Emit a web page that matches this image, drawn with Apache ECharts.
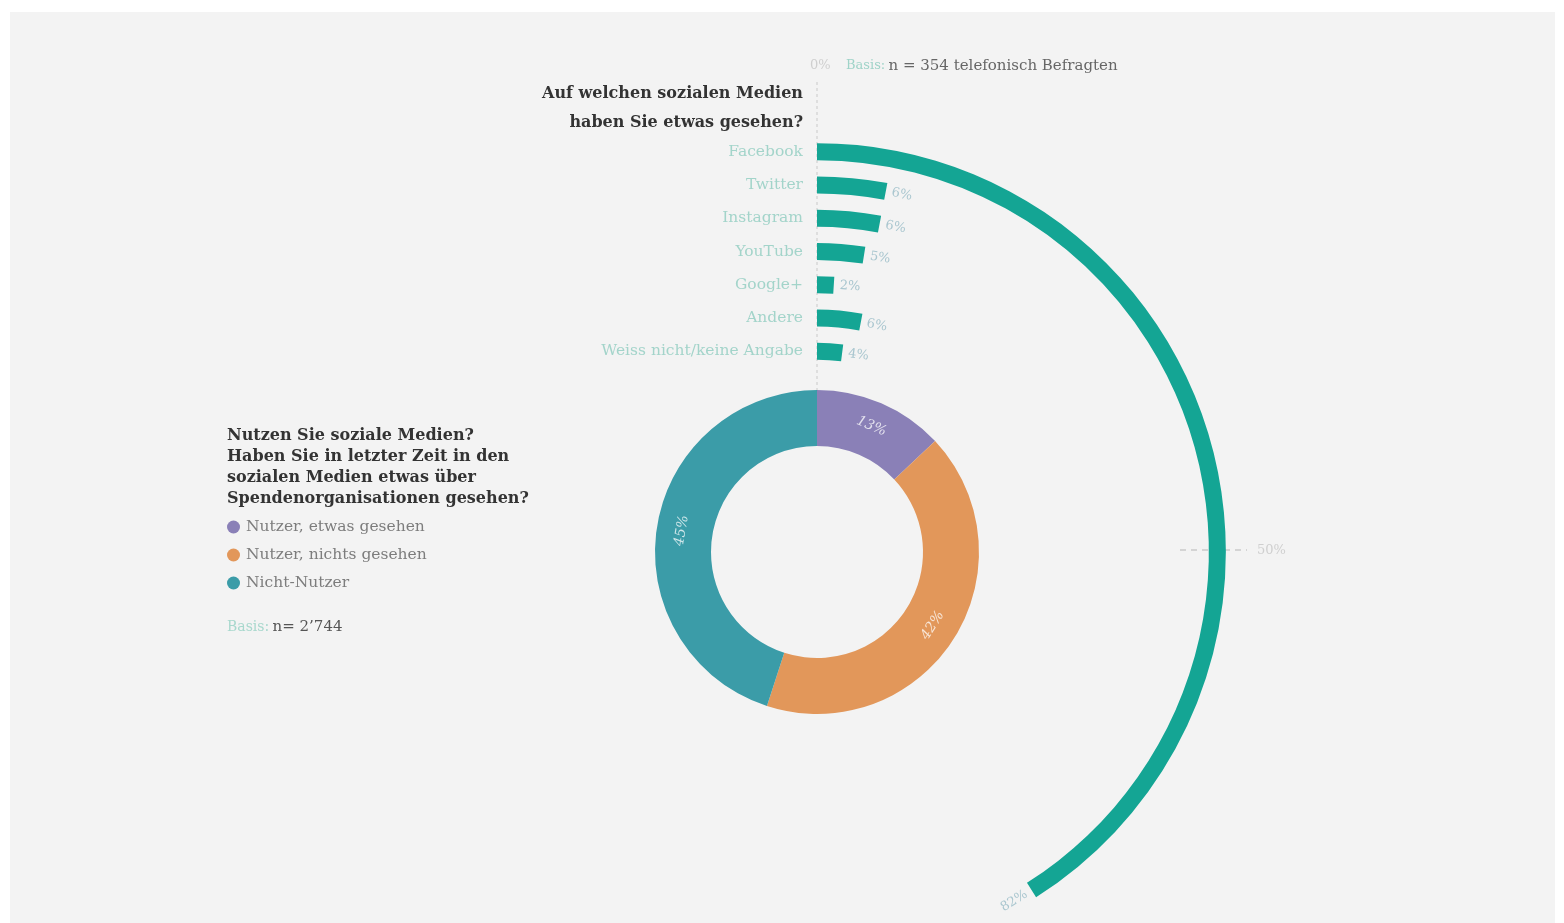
<!DOCTYPE html>
<html>
<head>
<meta charset="utf-8">
<script src="https://cdn.jsdelivr.net/npm/echarts@6/dist/echarts.min.js"></script>
<style>
html,body{margin:0;padding:0;background:#ffffff;}
#panel{position:absolute;left:10px;top:12px;width:1545px;height:911px;background:#f3f3f3;}
#chart{position:absolute;left:0;top:0;width:1564px;height:923px;}
</style>
</head>
<body>
<div id="panel"></div>
<div id="chart"></div>
<script>
// ---- data ----
const platforms = ['Facebook', 'Twitter', 'Instagram', 'YouTube', 'Google+', 'Andere', 'Weiss nicht/keine Angabe'];
const platformValues = [82, 6, 6, 5, 2, 6, 4];
const usageNames = ['Nutzer, etwas gesehen', 'Nutzer, nichts gesehen', 'Nicht-Nutzer'];
const usageValues = [13, 42, 45];
const angleTickLabels = ['0%', '50%'];

// ---- layout / style ----
const CX = 817, CY = 552;
const ANGLE_MAX = 200;       // full circle = 200%
const R_IN = 184, R_OUT = 417;
const SERIF = '"DejaVu Serif", serif';
const barColor = '#14a594';
const usageColors = ['#8a80b7', '#e2975a', '#3b9ca8'];

const chart = echarts.init(document.getElementById('chart'), null, {renderer: 'canvas'});

const graphics = [
  {type: 'line', z: 0, shape: {x1: CX, y1: 82, x2: CX, y2: 392},
   style: {stroke: '#c9c9c9', lineWidth: 1, lineDash: [3, 3]}},
  {type: 'text', style: {text: angleTickLabels[0], x: CX - 7, y: 66, align: 'left', verticalAlign: 'middle',
   font: '13px ' + SERIF, fill: '#cfcfcf'}},
  {type: 'text', style: {text: '{a|Basis:} {b|n = 354 telefonisch Befragten}', x: 846, y: 66, verticalAlign: 'middle',
   rich: {a: {fontFamily: 'DejaVu Serif', fontSize: 13, fill: '#9fd3c8'}, b: {fontFamily: 'DejaVu Serif', fontSize: 15, fill: '#666'}}}},
  {type: 'line', shape: {x1: CX + 363, y1: CY - 2, x2: CX + 430, y2: CY - 2},
   style: {stroke: '#b5b5b5', lineWidth: 1, lineDash: [6, 5]}},
  {type: 'text', style: {text: angleTickLabels[1], x: CX + 440, y: CY - 1, verticalAlign: 'middle',
   font: '13px ' + SERIF, fill: '#cfcfcf'}},
  {type: 'text', style: {text: 'Auf welchen sozialen Medien\nhaben Sie etwas gesehen?', x: 803, y: 79,
   align: 'right', font: 'bold 16px ' + SERIF, lineHeight: 29, fill: '#333'}},
  {type: 'text', style: {text: 'Nutzen Sie soziale Medien?\nHaben Sie in letzter Zeit in den\nsozialen Medien etwas über\nSpendenorganisationen gesehen?',
   x: 227, y: 425, align: 'left', font: 'bold 16px ' + SERIF, lineHeight: 21, fill: '#333'}},
  {type: 'text', style: {text: '{a|Basis:} {b|n= 2\u2019744}', x: 227, y: 627, verticalAlign: 'middle',
   rich: {a: {fontFamily: 'DejaVu Serif', fontSize: 14, fill: '#a8d8cd'}, b: {fontFamily: 'DejaVu Serif', fontSize: 15, fill: '#555'}}}}
];

function renderBarLabel(params, api) {
  const cs = params.coordSys;
  const p = api.coord([api.value(0), api.value(1)]);
  const dx = p[0] - cs.cx, dy = p[1] - cs.cy;
  const r = Math.sqrt(dx * dx + dy * dy);
  let tx = -dy / r, ty = dx / r;         // clockwise tangent
  const gap = 6;
  const x = p[0] + tx * gap, y = p[1] + ty * gap;
  let align = 'left';
  if (tx < 0) { tx = -tx; ty = -ty; align = 'right'; }
  return {
    type: 'text', x: x, y: y, rotation: -Math.atan2(ty, tx),
    style: {text: api.value(1) + '%', align: align, verticalAlign: 'middle',
      font: '13px ' + SERIF, fill: '#a9c6cf'}
  };
}

chart.setOption({
  animation: false,
  backgroundColor: 'transparent',
  graphic: graphics,
  legend: {
    orient: 'vertical', left: 227, top: 519, padding: 0, itemGap: 12, itemWidth: 13, itemHeight: 13,
    icon: 'circle', selectedMode: false, data: usageNames,
    textStyle: {fontFamily: 'DejaVu Serif', fontSize: 15.5, color: '#7d7d7d', padding: [0, 0, 0, 1]}
  },
  polar: {center: [CX, CY], radius: [R_IN, R_OUT]},
  angleAxis: {
    type: 'value', min: 0, max: ANGLE_MAX, startAngle: 90, clockwise: true,
    axisLine: {show: false}, axisTick: {show: false}, axisLabel: {show: false}, splitLine: {show: false}
  },
  radiusAxis: {
    type: 'category', data: platforms, inverse: true,
    axisLine: {show: false}, axisTick: {show: false}, splitLine: {show: false},
    axisLabel: {show: true, interval: 0, margin: 14, fontFamily: 'DejaVu Serif', fontSize: 15.5, color: '#a3d4ca'}
  },
  series: [
    {
      type: 'bar', coordinateSystem: 'polar', barWidth: 17, z: 3,
      itemStyle: {color: barColor},
      data: platformValues
    },
    {
      type: 'custom', coordinateSystem: 'polar', silent: true, z: 4,
      data: platformValues.map((v, i) => [i, v]),
      renderItem: renderBarLabel
    },
    {
      type: 'pie', center: [CX, CY], radius: [106, 162], startAngle: 90, clockwise: true,
      silent: true,
      data: usageNames.map((n, i) => ({name: n, value: usageValues[i], itemStyle: {color: usageColors[i]}})),
      label: {show: true, position: 'inside', rotate: 'tangential', formatter: '{c}%',
        fontFamily: 'DejaVu Serif', fontSize: 14, fontStyle: 'italic', color: 'rgba(255,255,255,0.75)'},
      labelLine: {show: false}
    }
  ]
});
</script>
</body>
</html>
